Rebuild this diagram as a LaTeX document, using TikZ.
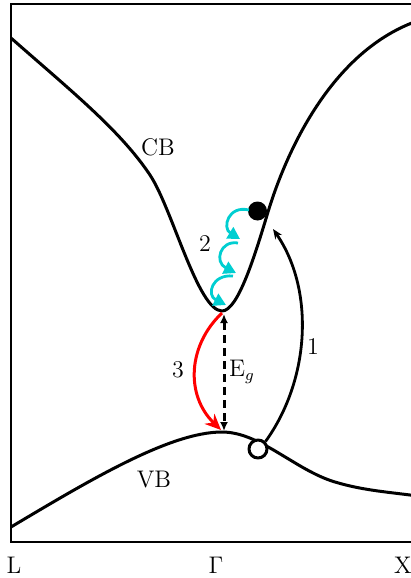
\documentclass[tikz,border=0pt]{standalone}
\usetikzlibrary{arrows.meta}
\definecolor{hopcyan}{RGB}{0,206,209}
\begin{document}
\begin{tikzpicture}[x=0.5pt,y=-0.5pt,
  band/.style={line width=1.5pt, line join=round},
  framebox/.style={line width=0.8pt},
  lbl/.style={font=\large, inner sep=0pt},
  hop/.style={hopcyan, line width=1.4pt, -{Triangle[length=6pt,width=6.5pt]}},
  relax/.style={red, line width=1.5pt, -{Stealth[length=8pt,width=7pt]}},
  gap/.style={line width=1.5pt, dash pattern=on 4pt off 2.5pt, {Latex[length=4.5pt,width=4pt]}-{Latex[length=4.5pt,width=4pt]}},
  excite/.style={line width=1.4pt, -{Stealth[length=5pt,width=4pt]}}]
\useasboundingbox (0,0) rectangle (411,578);
\clip (0,0) rectangle (411,578);
% frame
\draw[framebox] (420,4) -- (11,4) -- (11,542) -- (420,542);
% conduction band
\draw[band] (11,38) .. controls (70,90) and (120,130) .. (150,175)
  .. controls (172,208) and (198,311) .. (222,311)
  .. controls (238,311) and (255,255) .. (268,212)
  .. controls (285,156) and (330,50) .. (420,20);
% valence band
\draw[band] (11,527) .. controls (90,480) and (170,432) .. (222,432)
  .. controls (260,432) and (295,470) .. (335,482)
  .. controls (365,491) and (390,492) .. (425,497);
% carriers
\node[circle, fill=black, inner sep=0pt, minimum size=9.5pt] (e) at (257.5,211) {};
\node[circle, draw, band, fill=white, inner sep=0pt, minimum size=9pt] (h) at (258,449) {};
% coordinates
\coordinate (t1) at (273,229);
\coordinate (cbmin) at (222,313);
\coordinate (vbmax) at (221,430);
\coordinate (gtop) at (224,314);
\coordinate (gbot) at (224,431);
\coordinate (s1) at (249,210);
\coordinate (e1) at (240,239);
\coordinate (s2) at (238,243);
\coordinate (e2) at (236,273);
\coordinate (s3) at (233,276);
\coordinate (e3) at (226,305);
% transition 1
\draw[excite] (h.north east) .. controls (310,380) and (315,290) .. (t1);
% transition 2 (cyan hops)
\draw[hop] (s1) .. controls (228,205) and (222,228) .. (e1);
\draw[hop] (s2) .. controls (220,240) and (214,262) .. (e2);
\draw[hop] (s3) .. controls (212,274) and (206,295) .. (e3);
% transition 3
\draw[relax] (cbmin) .. controls (188,345) and (185,395) .. (vbmax);
% gap
\draw[gap] (gtop) -- (gbot);
% labels
\node[lbl] (cb) at (158,147) {CB};
\node[lbl] (vb) at (154,480) {VB};
\node[lbl] (n1) at (313,347) {1};
\node[lbl] (n2) at (205,244) {2};
\node[lbl] (n3) at (178,370) {3};
\node[lbl] (eg) at (242,372) {E$_g$};
\node[lbl] (kl) at (14,565) {L};
\node[lbl] (kg) at (216,565) {$\Gamma$};
\node[lbl] (kx) at (403,565) {X};
\end{tikzpicture}
\end{document}
